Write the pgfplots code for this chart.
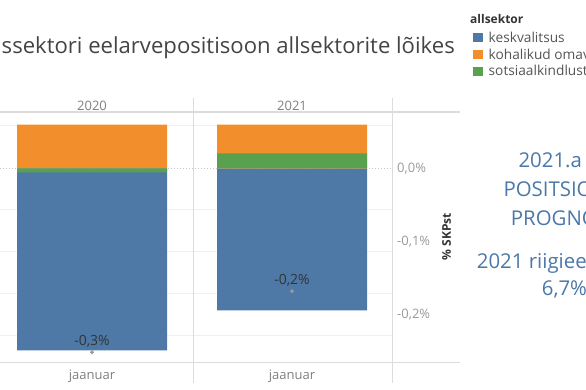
\documentclass[border=0pt]{standalone}
\usepackage{fontspec}
\setmainfont{Open Sans}
\usepackage{pgfplots}
\pgfplotsset{compat=1.18}
\definecolor{cBlue}{HTML}{4E79A7}
\definecolor{cOrange}{HTML}{F28E2B}
\definecolor{cGreen}{HTML}{59A14F}
\definecolor{gridc}{HTML}{F0F0F0}
\definecolor{zeroc}{HTML}{C8C8C8}
\definecolor{framec}{HTML}{DCDCDC}
\definecolor{tickc}{HTML}{9A9A9A}
\definecolor{hdrc}{HTML}{808080}
\definecolor{titlec}{HTML}{444444}
\definecolor{labc}{HTML}{333333}
\definecolor{dotc}{HTML}{9A9A9A}
\definecolor{legc}{HTML}{555555}
\definecolor{txtblue}{HTML}{4A78A8}
\begin{document}
\begin{tikzpicture}[x=1pt,y=1pt]
\useasboundingbox (0,0) rectangle (586,389);
\clip (0,0) rectangle (586,389);
% title
\node[anchor=base east, inner sep=0pt, text=titlec, font=\fontsize{22.1}{25}\selectfont] at (455,335.7) {Valitsussektori eelarvepositisoon allsektorite lõikes};
% legend
\node[anchor=base west, inner sep=0pt, text=labc, font=\fontsize{12}{14}\selectfont\bfseries] at (470,365.7) {allsektor};
\fill[cBlue] (473.3,346.7) rectangle (483.3,356.2);
\fill[cOrange] (473.3,329.7) rectangle (483.3,339.2);
\fill[cGreen] (473.3,312.7) rectangle (483.3,322.2);
\begin{scope}[every node/.style={anchor=base west, inner sep=0pt, text=legc, font=\fontsize{13.7}{16}\selectfont}]
\node at (488.5,346.7) {keskvalitsus};
\node at (488.5,329.7) {kohalikud omavalitsused};
\node at (488.5,313) {sotsiaalkindlustusfondid};
\end{scope}
% right text
\begin{scope}[every node/.style={anchor=base west, inner sep=0pt, text=txtblue, font=\fontsize{20.4}{23}\selectfont}]
\node at (518.3,221.7) {2021.a EELARVE-};
\node at (503.3,192.3) {POSITSIOONI};
\node at (510.7,164) {PROGNOOS};
\node at (476.7,120.7) {2021 riigieelarve};
\node at (541.7,94) {6,7\%};
\end{scope}
% y label
\node[rotate=90, anchor=center, inner sep=0pt, text=labc, font=\fontsize{12}{14}\selectfont\bfseries] at (446.7,152.3) {\% SKPst};
% main axis: bars and gridlines
\begin{axis}[
  at={(0pt,26.7pt)}, anchor=south west,
  scale only axis, width=392pt, height=250pt,
  xmin=0, xmax=392, ymin=-0.2643, ymax=0.0763,
  axis line style={draw=none}, major tick style={draw=none},
  ytick={-0.2275,-0.1703,-0.1131,-0.0559,0.0586}, yticklabels={},
  ymajorgrids, grid style={gridc, line width=1pt},
  extra y ticks={0}, extra y tick labels={},
  extra y tick style={grid style={zeroc, dotted, line width=0.8pt}},
  xtick={92,292}, xticklabels={jaanuar,jaanuar},
  xticklabel style={anchor=base, yshift=-17pt, text=hdrc, font=\fontsize{13}{15}\selectfont},
  clip=false,
]
% keskvalitsus (from 0 down)
\addplot[ybar, bar width=150pt, bar shift=0pt, fill=cBlue, draw=none] coordinates {(92,-0.2480) (292,-0.1935)};
% kohalikud omavalitsused (top of positive stack)
\addplot[ybar, bar width=150pt, bar shift=0pt, fill=cOrange, draw=none] coordinates {(92,0.0595) (292,0.0595)};
% sotsiaalkindlustusfondid
\addplot[ybar, bar width=150pt, bar shift=0pt, fill=cGreen, draw=none] coordinates {(92,-0.0054) (292,0.0204)};
% totals
\addplot[only marks, mark=*, mark size=1.8pt, color=dotc,
  point meta=explicit symbolic, nodes near coords,
  nodes near coords style={anchor=center, yshift=11pt, text=labc, font=\fontsize{14}{16}\selectfont}]
  coordinates {(92,-0.2507) [{-0,3\%}] (292,-0.1676) [{-0,2\%}]};
\end{axis}
% right axis
\begin{axis}[
  at={(0pt,26.7pt)}, anchor=south west,
  scale only axis, width=392pt, height=250pt,
  xmin=0, xmax=392, ymin=-0.2643, ymax=0.0763,
  axis line style={draw=none}, major tick style={draw=none},
  xticklabel pos=upper, yticklabel pos=right,
  xtick={92,292}, xticklabels={2020,2021},
  xticklabel style={anchor=base, yshift=1.6pt, text=hdrc, font=\fontsize{13}{15}\selectfont},
  ytick={-0.2,-0.1,0}, yticklabels={{-0,2\%},{-0,1\%},{0,0\%}},
  yticklabel style={anchor=west, inner sep=0pt, xshift=5pt, text=tickc, font=\fontsize{13}{15}\selectfont},
]
\end{axis}
% frame lines
\draw[framec, line width=1.5pt] (0,277) -- (460,277);
\draw[framec, line width=1pt] (0,26.7) -- (460,26.7);
\draw[framec, line width=1pt] (193,291) -- (193,6);
\draw[framec, line width=1pt] (392,291) -- (392,6);
\end{tikzpicture}
\end{document}
